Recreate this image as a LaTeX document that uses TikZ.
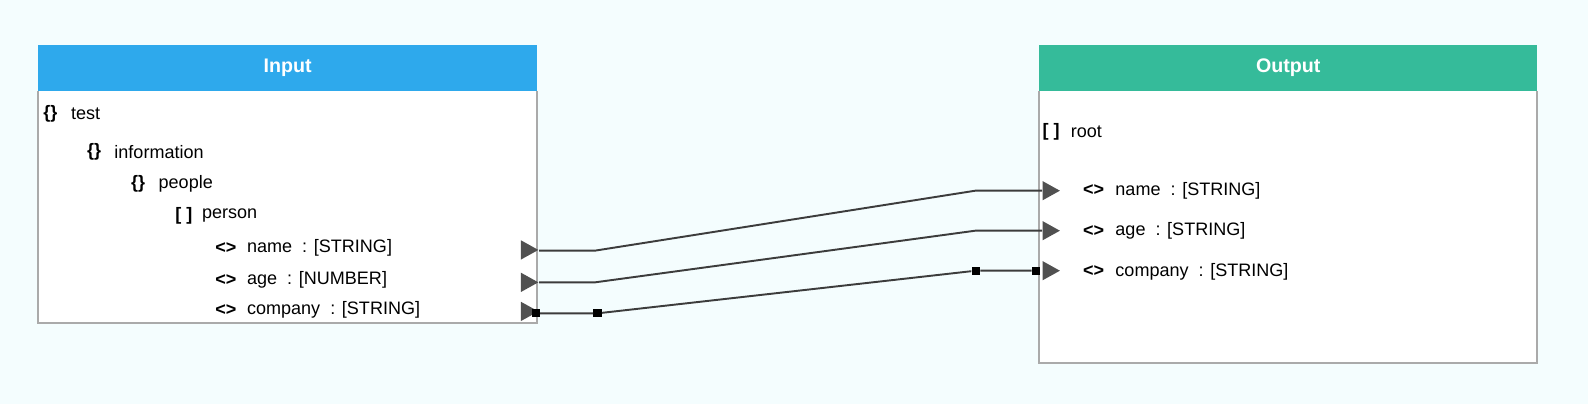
\documentclass[tikz,border=0pt]{standalone}
\usepackage{fontspec}
\setmainfont{Liberation Sans}
\usetikzlibrary{shapes.geometric}
\definecolor{bgcol}{HTML}{F4FDFE}
\definecolor{inhead}{HTML}{2EA9EC}
\definecolor{outhead}{HTML}{35BB9A}
\definecolor{framecol}{HTML}{AAAAAA}
\definecolor{wirecol}{HTML}{3C3C3C}
\tikzset{
  field/.style={anchor=west, inner sep=0pt, font=\fontsize{8.9}{10}\selectfont},
  icon/.style={anchor=west, inner sep=0pt, font=\bfseries\fontsize{8.9}{10}\selectfont},
  title/.style={text=white, font=\bfseries\fontsize{9.7}{11}\selectfont},
  port/.style={isosceles triangle, isosceles triangle apex angle=58, fill=wirecol!90, draw=none,
    inner sep=0pt, minimum height=8.5pt, minimum width=9.5pt},
  handle/.style={rectangle, fill=black, inner sep=0pt, minimum size=4pt},
  wire/.style={draw=wirecol, line width=0.95pt}
}
\begin{document}
\begin{tikzpicture}[x=0.5pt,y=-0.5pt]
        \useasboundingbox (0,0) rectangle (1568,399);
        \fill[bgcol] (0,0) rectangle (1568,399);

        % Draw the input box
        \fill[white] (38,44) rectangle (530,319);
        \fill[inhead] (38,44) rectangle (530,90);
        \draw[framecol, line width=1pt] (38,90) -- (38,319) -- (530,319) -- (530,90);
        \node[title] (intitle) at (284,67) {Input};
        \node[icon] (i1) at (42.5,112.6) {\{\}};
        \node[field] (t1) at (69.8,112.6) {test};
        \node[icon] (i2) at (85.6,149.8) {\{\}};
        \node[field] (t2) at (112.6,149.8) {information};
        \node[icon] (i3) at (129,181.7) {\{\}};
        \node[field] (t3) at (156.3,181.7) {people};
        \node[icon] (i4) at (172.8,213.3) {[ ]};
        \node[field] (t4) at (199.1,213.3) {person};
        \node[icon] (i5) at (212.3,245.2) {<>};
        \node[field] (t5) at (243.6,245.2) {name\ \ : [STRING]};
        \node[icon] (i6) at (212.3,276.5) {<>};
        \node[field] (t6) at (243.6,276.5) {age\ \ : [NUMBER]};
        \node[icon] (i7) at (212.3,306.1) {<>};
        \node[field] (t7) at (243.6,306.1) {company\ \ : [STRING]};

        % Draw the output box
        \fill[white] (1026,44) rectangle (1518,358);
        \fill[outhead] (1026,44) rectangle (1518,90);
        \draw[framecol, line width=1pt] (1026,90) -- (1026,358) -- (1518,358) -- (1518,90);
        \node[title] (outtitle) at (1272,67) {Output};
        \node[icon] (o1) at (1029,130) {[ ]};
        \node[field] (u1) at (1057,130) {root};
        \node[icon] (o2) at (1069,188) {<>};
        \node[field] (u2) at (1101,188) {name\ \ : [STRING]};
        \node[icon] (o3) at (1069,228) {<>};
        \node[field] (u3) at (1101,228) {age\ \ : [STRING]};
        \node[icon] (o4) at (1069,268) {<>};
        \node[field] (u4) at (1101,268) {company\ \ : [STRING]};

        % Add the ports
        \node[port] (pname) at (520,246.8) {};
        \node[port] (page) at (520,278.8) {};
        \node[port] (pcomp) at (520,307.5) {};
        \node[port] (qname) at (1035,188.3) {};
        \node[port] (qage) at (1035,227.8) {};
        \node[port] (qcomp) at (1035,267.3) {};

        % Add the bends
        \coordinate (b1) at (587.5,247.5);
        \coordinate (c1) at (963,188.3);
        \coordinate (b2) at (587.5,278.8);
        \coordinate (c2) at (963,227.8);
        \node[handle] (h1) at (529,309.4) {};
        \node[handle] (h2) at (590,309.4) {};
        \node[handle] (h3) at (963.5,267.3) {};
        \node[handle] (h4) at (1023,267.3) {};

        % Add the wires
        \draw[wire] (pname.apex |- b1) -- (b1) -- (c1) -- (qname.west);
        \draw[wire] (page.apex) -- (b2) -- (c2) -- (qage.west);
        \draw[wire] (h1) -- (h2) -- (h3) -- (h4);
    \end{tikzpicture}
\end{document}
